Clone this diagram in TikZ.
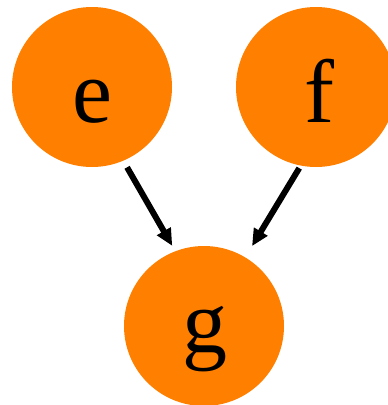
\documentclass[tikz,border=0pt]{standalone}
\usepackage{fontspec}
\setmainfont{Liberation Serif}
\usetikzlibrary{arrows.meta}
\definecolor{nodeorange}{RGB}{255,127,0}
\tikzset{
  ball/.style={circle, fill=nodeorange, draw=none, minimum size=160pt, inner sep=0pt},
  balltext/.style={anchor=base, inner sep=0pt, font=\fontsize{90}{90}\selectfont},
  edge/.style={line width=6pt, -{Triangle[length=17pt,width=15pt]}}
}
\begin{document}
\begin{tikzpicture}[x=1pt,y=-1pt]
\useasboundingbox (0,0) rectangle (388,405);
\node[ball] (e) at (92,87) {};
\node[ball] (f) at (316,87) {};
\node[ball] (g) at (204,326) {};
\node[balltext] (et) at (92.5,122) {e};
\node[balltext] (ft) at (319,122) {f};
\node[balltext] (gt) at (204.5,352) {g};
\draw[edge, shorten <=7.5pt, shorten >=6pt] (e.-67.8) -- (g.111.3);
\draw[edge, shorten <=2.8pt, shorten >=13pt] (f.-101.9) -- (g.59.3);
\end{tikzpicture}
\end{document}
